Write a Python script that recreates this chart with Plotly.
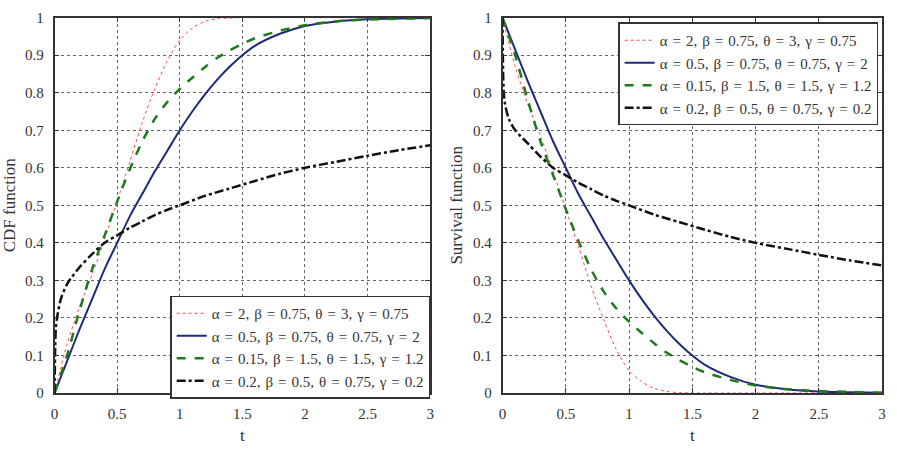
import plotly.graph_objects as go

# ---------------- data ----------------
t = [0, 0.1, 0.2, 0.3, 0.4, 0.5, 0.6, 0.7, 0.8, 0.9, 1.0, 1.1, 1.2, 1.3, 1.4, 1.5, 1.6, 1.8, 2.0, 2.25, 2.5, 2.75, 3.0]
t_black = [0, 0.005, 0.01, 0.02, 0.05, 0.1, 0.2, 0.3, 0.4, 0.5, 0.6, 0.7, 0.8, 0.9, 1.0, 1.2, 1.4, 1.6, 1.8, 2.0, 2.25, 2.5, 2.75, 3.0]

cdf_red   = [0, 0.13, 0.23, 0.315, 0.41, 0.51, 0.615, 0.72, 0.81, 0.885, 0.94, 0.972, 0.99, 0.997, 0.999, 1.0, 1.0, 1.0, 1.0, 1.0, 1.0, 1.0, 1.0]
cdf_blue  = [0, 0.085, 0.17, 0.25, 0.33, 0.40, 0.47, 0.53, 0.59, 0.645, 0.70, 0.75, 0.795, 0.835, 0.87, 0.90, 0.925, 0.957, 0.978, 0.99, 0.996, 0.998, 0.999]
cdf_green = [0, 0.10, 0.22, 0.33, 0.42, 0.51, 0.595, 0.67, 0.73, 0.775, 0.81, 0.84, 0.868, 0.893, 0.913, 0.93, 0.945, 0.965, 0.98, 0.99, 0.995, 0.997, 0.999]
cdf_black = [0, 0.12, 0.17, 0.20, 0.25, 0.29, 0.335, 0.37, 0.40, 0.42, 0.44, 0.457, 0.474, 0.488, 0.50, 0.525, 0.545, 0.565, 0.584, 0.60, 0.616, 0.632, 0.647, 0.66]

sur_red   = [1, 0.87, 0.77, 0.685, 0.59, 0.49, 0.39, 0.285, 0.195, 0.115, 0.06, 0.03, 0.012, 0.004, 0.001, 0, 0, 0, 0, 0, 0, 0, 0]
sur_blue  = [1, 0.915, 0.83, 0.75, 0.67, 0.60, 0.53, 0.47, 0.41, 0.355, 0.30, 0.25, 0.205, 0.165, 0.13, 0.10, 0.075, 0.043, 0.022, 0.01, 0.004, 0.002, 0.001]
sur_green = [1, 0.90, 0.78, 0.67, 0.58, 0.49, 0.405, 0.33, 0.27, 0.225, 0.19, 0.16, 0.132, 0.107, 0.087, 0.07, 0.055, 0.035, 0.02, 0.01, 0.005, 0.003, 0.001]
sur_black = [1, 0.85, 0.80, 0.77, 0.73, 0.70, 0.665, 0.63, 0.60, 0.58, 0.56, 0.543, 0.526, 0.512, 0.50, 0.475, 0.455, 0.435, 0.416, 0.40, 0.384, 0.368, 0.353, 0.34]

labels = [
    "α = 2, β = 0.75, θ = 3, γ = 0.75",
    "α = 0.5, β = 0.75, θ = 0.75, γ = 2",
    "α = 0.15, β = 1.5, θ = 1.5, γ = 1.2",
    "α = 0.2, β = 0.5, θ = 0.75, γ = 0.2",
]
x_ticks = [0, 0.5, 1, 1.5, 2, 2.5, 3]
x_ticklabels = ["0", "0.5", "1", "1.5", "2", "2.5", "3"]
y_ticks = [0, 0.1, 0.2, 0.3, 0.4, 0.5, 0.6, 0.7, 0.8, 0.9, 1]
y_ticklabels = ["0", "0.1", "0.2", "0.3", "0.4", "0.5", "0.6", "0.7", "0.8", "0.9", "1"]

# ---------------- styles ----------------
styles = [
    dict(color="#ff4a4a", width=1, dash="dot"),
    dict(color="#1f2a78", width=2, dash="solid"),
    dict(color="#1e7a1e", width=2.5, dash="dash"),
    dict(color="#111111", width=2.5, dash="dashdot"),
]
FONT = "Liberation Serif, Times New Roman, serif"
TXT = "#333333"

def wide(s):
    # slightly wider word spacing, like the original rendering
    return s.replace(" ", "\u2004")

fig = go.Figure()
left = [(t, cdf_red), (t, cdf_blue), (t, cdf_green), (t_black, cdf_black)]
right = [(t, sur_red), (t, sur_blue), (t, sur_green), (t_black, sur_black)]
for i, (xx, yy) in enumerate(left):
    fig.add_trace(go.Scatter(x=xx, y=yy, mode="lines", name=wide(labels[i]),
                             line=dict(**styles[i], shape="spline", smoothing=0.8),
                             xaxis="x", yaxis="y", legend="legend"))
for i, (xx, yy) in enumerate(right):
    fig.add_trace(go.Scatter(x=xx, y=yy, mode="lines", name=wide(labels[i]),
                             line=dict(**styles[i], shape="spline", smoothing=0.8),
                             xaxis="x2", yaxis="y2", legend="legend2"))

W, H = 897, 456
def px(a, b):
    return [a / W, b / W]

grid = dict(showline=True, linecolor="#333", linewidth=1.5, mirror="ticks", ticks="inside", ticklen=5,
            tickcolor="#333", showgrid=True, gridcolor="#666", griddash="dot", gridwidth=1, zeroline=False,
            tickfont=dict(family=FONT, size=15, color=TXT), ticklabelstandoff=6)
ax_common = dict(range=[0, 3], tickvals=x_ticks, ticktext=x_ticklabels, **grid,
                 title=dict(text="t", font=dict(family=FONT, size=17, color=TXT), standoff=8))
ay_common = dict(range=[0, 1], tickvals=y_ticks, ticktext=y_ticklabels, **grid)

y_dom = [1 - 399 / H, 1 - 10 / H]
leg_common = dict(bgcolor="white", bordercolor="#333", borderwidth=1.5,
                  font=dict(family=FONT, size=15, color=TXT), tracegroupgap=0, itemwidth=30)

fig.update_layout(
    width=W, height=H,
    margin=dict(l=0, r=0, t=0, b=0),
    paper_bgcolor="white", plot_bgcolor="white",
    showlegend=True,
    xaxis=dict(**ax_common, domain=px(51, 430), anchor="y"),
    yaxis=dict(**ay_common, domain=y_dom, anchor="x",
               title=dict(text="CDF function", font=dict(family=FONT, size=17, color=TXT), standoff=6)),
    xaxis2=dict(**ax_common, domain=px(503, 886), anchor="y2"),
    yaxis2=dict(**ay_common, domain=y_dom, anchor="x2",
                title=dict(text="Survival function", font=dict(family=FONT, size=17, color=TXT), standoff=6)),
    legend=dict(**leg_common, x=430 / W, xanchor="right", y=1 - 298 / H, yanchor="top"),
    legend2=dict(**leg_common, x=882 / W, xanchor="right", y=1 - 15 / H, yanchor="top"),
)

fig.write_html("out.html")
